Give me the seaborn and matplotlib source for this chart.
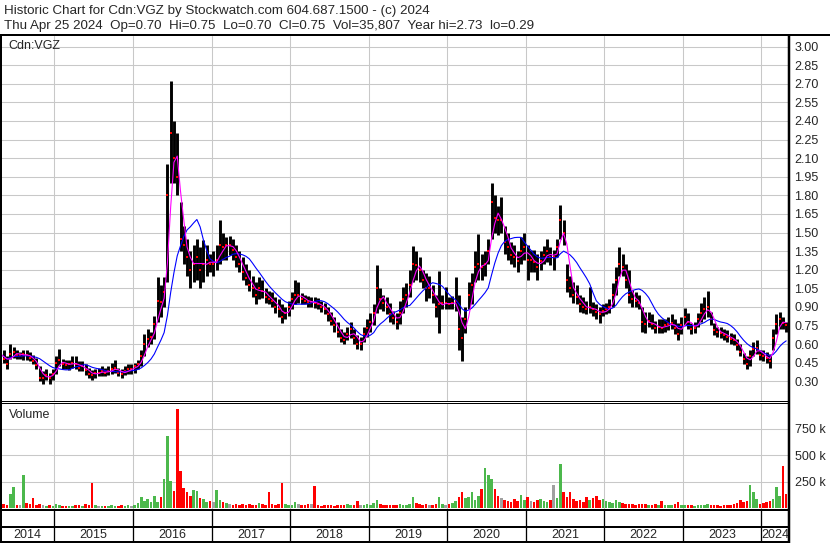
import numpy as np
import pandas as pd
import matplotlib
matplotlib.use("Agg")
import matplotlib.pyplot as plt
import matplotlib.dates as mdates
from matplotlib.lines import Line2D
import seaborn as sns

# --- DATA (semi-monthly bars) ---
START, END = "2014-04-25", "2024-04-25"

high = [0.57, 0.55, 0.50, 0.60, 0.58, 0.55, 0.54, 0.55, 0.55, 0.54,
        0.51, 0.49, 0.42, 0.38, 0.40, 0.37, 0.40, 0.50, 0.56, 0.48,
        0.47, 0.47, 0.50, 0.50, 0.46, 0.46, 0.44, 0.41, 0.39, 0.40,
        0.41, 0.42, 0.41, 0.42, 0.45, 0.47, 0.41, 0.40, 0.42, 0.44,
        0.44, 0.45, 0.47, 0.55, 0.68, 0.72, 0.70, 0.83, 1.14, 1.08,
        1.14, 2.05, 2.72, 2.40, 2.30, 1.75, 1.55, 1.45, 1.35, 1.40,
        1.45, 1.38, 1.44, 1.40, 1.33, 1.35, 1.40, 1.60, 1.50, 1.46,
        1.47, 1.45, 1.40, 1.35, 1.30, 1.25, 1.20, 1.15, 1.10, 1.14,
        1.12, 1.05, 1.03, 1.02, 0.98, 0.96, 0.92, 0.90, 0.95, 1.02,
        1.12, 1.10, 1.01, 1.00, 0.99, 0.98, 0.98, 0.97, 0.95, 0.93,
        0.90, 0.86, 0.82, 0.78, 0.72, 0.70, 0.74, 0.78, 0.72, 0.67,
        0.66, 0.74, 0.80, 0.85, 0.92, 1.24, 1.05, 1.00, 0.98, 0.93,
        0.87, 0.85, 0.95, 1.06, 1.09, 1.20, 1.39, 1.35, 1.30, 1.20,
        1.17, 1.15, 1.08, 1.00, 1.19, 1.00, 1.06, 0.98, 0.99, 1.14,
        1.00, 0.82, 0.90, 1.10, 1.17, 1.35, 1.49, 1.33, 1.35, 1.45,
        1.90, 1.80, 1.71, 1.79, 1.55, 1.50, 1.42, 1.40, 1.35, 1.46,
        1.50, 1.40, 1.36, 1.36, 1.33, 1.35, 1.39, 1.45, 1.38, 1.36,
        1.45, 1.72, 1.60, 1.25, 1.15, 1.10, 1.08, 1.00, 0.98, 0.95,
        1.06, 0.94, 0.92, 0.90, 0.92, 0.93, 0.96, 1.09, 1.22, 1.38,
        1.33, 1.25, 1.20, 1.04, 1.02, 1.00, 0.90, 0.86, 0.86, 0.84,
        0.79, 0.80, 0.80, 0.80, 0.82, 0.84, 0.80, 0.77, 0.82, 0.89,
        0.85, 0.77, 0.78, 0.85, 0.93, 0.98, 1.03, 0.86, 0.77, 0.74,
        0.74, 0.72, 0.71, 0.69, 0.68, 0.64, 0.60, 0.53, 0.50, 0.55,
        0.62, 0.63, 0.55, 0.55, 0.54, 0.52, 0.72, 0.84, 0.86, 0.82, 0.78]

low = [0.47, 0.45, 0.40, 0.48, 0.49, 0.48, 0.48, 0.47, 0.47, 0.46,
       0.44, 0.40, 0.30, 0.28, 0.31, 0.28, 0.31, 0.36, 0.42, 0.40,
       0.40, 0.39, 0.41, 0.40, 0.38, 0.38, 0.35, 0.33, 0.31, 0.33,
       0.34, 0.34, 0.34, 0.35, 0.36, 0.37, 0.34, 0.33, 0.35, 0.36,
       0.36, 0.37, 0.40, 0.42, 0.50, 0.58, 0.60, 0.64, 0.78, 0.82,
       0.90, 1.10, 1.90, 1.90, 1.80, 1.35, 1.25, 1.15, 1.05, 1.10,
       1.12, 1.05, 1.10, 1.15, 1.18, 1.15, 1.20, 1.25, 1.28, 1.28,
       1.32, 1.28, 1.22, 1.18, 1.12, 1.08, 1.03, 0.98, 0.92, 0.96,
       0.97, 0.93, 0.92, 0.90, 0.85, 0.82, 0.77, 0.80, 0.83, 0.88,
       0.92, 0.93, 0.92, 0.92, 0.90, 0.90, 0.89, 0.88, 0.86, 0.84,
       0.79, 0.75, 0.70, 0.66, 0.62, 0.60, 0.63, 0.65, 0.60, 0.56,
       0.55, 0.62, 0.66, 0.70, 0.75, 0.85, 0.88, 0.87, 0.84, 0.78,
       0.76, 0.72, 0.76, 0.85, 0.90, 0.98, 1.10, 1.12, 1.10, 1.05,
       0.95, 0.97, 0.93, 0.82, 0.69, 0.88, 0.88, 0.88, 0.88, 0.87,
       0.55, 0.46, 0.69, 0.88, 0.92, 1.10, 1.12, 1.12, 1.15, 1.25,
       1.45, 1.50, 1.48, 1.50, 1.33, 1.28, 1.25, 1.22, 1.18, 1.25,
       1.28, 1.12, 1.18, 1.18, 1.12, 1.20, 1.25, 1.26, 1.24, 1.20,
       1.30, 1.45, 1.40, 1.02, 0.98, 0.93, 0.92, 0.86, 0.85, 0.84,
       0.85, 0.83, 0.80, 0.77, 0.83, 0.84, 0.85, 0.90, 1.00, 1.15,
       1.15, 1.05, 0.93, 0.90, 0.90, 0.88, 0.70, 0.69, 0.74, 0.72,
       0.69, 0.69, 0.69, 0.70, 0.71, 0.72, 0.68, 0.63, 0.68, 0.75,
       0.72, 0.68, 0.69, 0.74, 0.78, 0.80, 0.82, 0.75, 0.67, 0.66,
       0.65, 0.63, 0.62, 0.60, 0.59, 0.55, 0.50, 0.44, 0.40, 0.42,
       0.50, 0.52, 0.47, 0.46, 0.45, 0.41, 0.55, 0.68, 0.72, 0.72, 0.70]

close = [0.52, 0.48, 0.44, 0.52, 0.54, 0.51, 0.51, 0.52, 0.51, 0.49,
         0.46, 0.43, 0.33, 0.33, 0.35, 0.33, 0.36, 0.45, 0.47, 0.44,
         0.43, 0.44, 0.45, 0.44, 0.41, 0.42, 0.39, 0.36, 0.35, 0.37,
         0.37, 0.38, 0.37, 0.38, 0.40, 0.41, 0.37, 0.36, 0.38, 0.40,
         0.40, 0.42, 0.44, 0.50, 0.60, 0.64, 0.66, 0.76, 0.95, 0.94,
         1.02, 1.80, 2.30, 2.10, 1.95, 1.45, 1.40, 1.30, 1.20, 1.25,
         1.30, 1.20, 1.25, 1.28, 1.25, 1.25, 1.28, 1.40, 1.38, 1.40,
         1.40, 1.36, 1.30, 1.25, 1.18, 1.13, 1.08, 1.05, 1.00, 1.05,
         1.03, 0.98, 0.96, 0.95, 0.90, 0.88, 0.82, 0.85, 0.90, 0.96,
         1.00, 1.00, 0.96, 0.95, 0.94, 0.94, 0.93, 0.92, 0.90, 0.88,
         0.84, 0.79, 0.75, 0.70, 0.65, 0.63, 0.68, 0.72, 0.65, 0.60,
         0.60, 0.68, 0.73, 0.78, 0.85, 1.05, 0.96, 0.93, 0.90, 0.84,
         0.81, 0.78, 0.85, 0.96, 1.00, 1.08, 1.25, 1.24, 1.20, 1.12,
         1.05, 1.05, 1.00, 0.90, 0.92, 0.93, 0.93, 0.92, 0.93, 0.95,
         0.72, 0.65, 0.80, 1.00, 1.08, 1.22, 1.25, 1.22, 1.25, 1.35,
         1.75, 1.62, 1.60, 1.60, 1.42, 1.38, 1.32, 1.30, 1.27, 1.35,
         1.38, 1.28, 1.28, 1.26, 1.22, 1.27, 1.32, 1.35, 1.30, 1.30,
         1.38, 1.60, 1.50, 1.12, 1.05, 1.00, 0.98, 0.92, 0.90, 0.88,
         0.90, 0.88, 0.86, 0.84, 0.87, 0.88, 0.90, 1.00, 1.12, 1.25,
         1.22, 1.12, 1.00, 0.96, 0.95, 0.93, 0.78, 0.76, 0.79, 0.76,
         0.73, 0.74, 0.73, 0.75, 0.76, 0.77, 0.73, 0.68, 0.75, 0.82,
         0.78, 0.72, 0.73, 0.80, 0.85, 0.88, 0.90, 0.80, 0.71, 0.70,
         0.69, 0.67, 0.66, 0.64, 0.63, 0.59, 0.54, 0.48, 0.44, 0.50,
         0.56, 0.57, 0.51, 0.50, 0.49, 0.46, 0.65, 0.76, 0.80, 0.77, 0.75]

volume_k = [60, 45, 30, 130, 200, 35, 30, 310, 50, 40,
            97, 35, 40, 30, 25, 30, 25, 40, 30, 25,
            20, 25, 20, 30, 35, 25, 40, 35, 235, 30,
            25, 20, 25, 20, 30, 25, 20, 35, 25, 30,
            25, 30, 50, 110, 70, 90, 60, 120, 60, 110,
            280, 680, 260, 160, 930, 350, 190, 150, 120, 170,
            160, 100, 90, 60, 70, 60, 170, 80, 60, 50,
            40, 35, 40, 30, 45, 35, 40, 30, 35, 50,
            40, 35, 150, 40, 35, 45, 240, 40, 35, 30,
            60, 40, 35, 30, 40, 40, 205, 30, 25, 30,
            35, 30, 25, 30, 35, 30, 40, 30, 35, 70,
            30, 35, 40, 35, 50, 80, 40, 35, 30, 35,
            30, 35, 40, 30, 35, 45, 110, 50, 40, 35,
            40, 35, 30, 45, 105, 40, 35, 40, 50, 70,
            110, 150, 100, 110, 150, 80, 120, 185, 375, 315,
            275, 185, 120, 100, 80, 70, 60, 90, 70, 125,
            80, 110, 70, 60, 80, 90, 70, 60, 80, 215,
            100, 420, 150, 110, 150, 90, 70, 80, 60, 110,
            80, 100, 120, 80, 90, 70, 60, 50, 80, 60,
            50, 40, 45, 40, 35, 40, 45, 40, 35, 30,
            40, 35, 70, 30, 35, 30, 40, 55, 35, 30,
            35, 30, 25, 30, 35, 30, 40, 30, 35, 30,
            25, 30, 35, 30, 40, 50, 80, 60, 70, 215,
            150, 90, 40, 50, 60, 70, 90, 200, 120, 400, 130]

price_ticks = [0.30, 0.45, 0.60, 0.75, 0.90, 1.05, 1.20, 1.35, 1.50, 1.65,
               1.80, 1.95, 2.10, 2.25, 2.40, 2.55, 2.70, 2.85, 3.00]
vol_ticks = [250, 500, 750]
years = list(range(2014, 2025))

header_1 = "Historic Chart for Cdn:VGZ by Stockwatch.com 604.687.1500 - (c) 2024"
header_2 = ("Thu Apr 25 2024  Op=0.70  Hi=0.75  Lo=0.70  Cl=0.75  "
            "Vol=35,807  Year hi=2.73  lo=0.29")

# --- STYLE ---
GRID = "#c8c8c8"
GREEN, RED, GREY = "#4cb84c", "#ff0000", "#a0a0a0"
FS = 9

sns.set_style("white")
plt.rcParams["font.family"] = ["Liberation Sans", "DejaVu Sans"]

df = pd.DataFrame({
    "date": pd.date_range(START, END, periods=len(close)),
    "high": high, "low": low, "close": close,
    "volume": np.array(volume_k) * 1000.0,
})
df["ma_fast"] = df["close"].rolling(3, min_periods=1).mean()
df["ma_slow"] = df["close"].rolling(10, min_periods=1).mean()
chg = df["close"].diff().fillna(0)
df["vcol"] = np.where(chg > 0, GREEN, np.where(chg < 0, RED, GREY))

W, H = 830, 543
fig = plt.figure(figsize=(W / 100, H / 100), dpi=100)
fig.patch.set_facecolor("white")


def box(x0, y0, x1, y1):
    # pixel box (origin top-left) -> figure fraction rect
    return [x0 / W, 1 - y1 / H, (x1 - x0) / W, (y1 - y0) / H]


def fline(xs, ys, lw):
    fig.add_artist(Line2D([x / W for x in xs], [1 - y / H for y in ys],
                          color="black", lw=lw * 0.72, solid_capstyle="butt"))


xmin, xmax = pd.Timestamp("2014-04-23"), pd.Timestamp("2024-05-08")
year_edges = [pd.Timestamp(f"{y}-01-01") for y in years[1:]]

ax_p = fig.add_axes(box(0, 36, 789, 401.5))
ax_v = fig.add_axes(box(0, 403, 789, 510))
ax_yr = fig.add_axes(box(0, 527, 789, 542))

for ax in (ax_p, ax_v, ax_yr):
    for s in ax.spines.values():
        s.set_visible(False)
    ax.set_xlim(xmin, xmax)
    ax.set_xticks(year_edges)
    ax.tick_params(axis="x", length=0, labelbottom=False)

# price panel
ax_p.vlines(df["date"], df["low"], df["high"], color="black", lw=2.1, zorder=3)
ax_p.plot(df["date"], df["close"], ls="none", marker="s", ms=1.7, mew=0,
          color="red", zorder=4)
sns.lineplot(data=df, x="date", y="ma_slow", ax=ax_p, color="#0000ff", lw=0.8, zorder=5)
sns.lineplot(data=df, x="date", y="ma_fast", ax=ax_p, color="#ff00ff", lw=0.8, zorder=6)
ax_p.set_xlim(xmin, xmax)
ax_p.set_ylim(0.137, 3.085)
ax_p.set_yticks(price_ticks)
ax_p.set_yticklabels([f"{v:.2f}" for v in price_ticks])
ax_p.yaxis.tick_right()
ax_p.tick_params(axis="y", length=0, pad=4, labelsize=FS)
ax_p.grid(True, color=GRID, lw=0.75)
ax_p.set_axisbelow(True)
ax_p.set_xlabel("")
ax_p.set_ylabel("")
ax_p.text(8 / 789, 1 - 13.3 / 365.5, "Cdn:VGZ", transform=ax_p.transAxes,
          fontsize=FS, va="baseline", ha="left")

# volume panel
ax_v.bar(df["date"], df["volume"], width=12, color=df["vcol"], lw=0, zorder=3)
ax_v.set_ylim(-16e3, 990e3)
ax_v.set_yticks([v * 1000 for v in vol_ticks])
ax_v.set_yticklabels([f"{v} k" for v in vol_ticks])
ax_v.yaxis.tick_right()
ax_v.tick_params(axis="y", length=0, pad=4, labelsize=FS)
ax_v.grid(True, color=GRID, lw=0.75)
ax_v.set_axisbelow(True)
ax_v.text(9 / 789, 1 - 14.7 / 107, "Volume", transform=ax_v.transAxes,
          fontsize=FS, va="baseline", ha="left")

# year labels
ax_yr.set_ylim(0, 1)
ax_yr.set_yticks([])
for y in years:
    a = max(pd.Timestamp(f"{y}-01-01"), xmin)
    b = min(pd.Timestamp(f"{y + 1}-01-01"), xmax)
    ax_yr.text(a + (b - a) / 2, 0.45, str(y), ha="center", va="center", fontsize=FS)

# header
fig.text(4 / W, 1 - 14 / H, header_1, fontsize=9.6, va="baseline", ha="left")
fig.text(4 / W, 1 - 28.6 / H, header_2, fontsize=9.6, va="baseline", ha="left")

# frame lines
fline([0, W], [35, 35], 2)
fline([0, 789], [401.3, 401.3], 1)
fline([0, 789], [403, 403], 1)
fline([0, 789], [510, 510], 2)
fline([0, 789], [526.7, 526.7], 2)
fline([0, 789], [542, 542], 2)
fline([1, 1], [35, 543], 2)
fline([789, 789], [35, 543], 2.5)
for e in year_edges:
    xf = ax_yr.transData.transform((mdates.date2num(e), 0))[0]
    fline([xf, xf], [510, 543], 1.3)

fig.savefig("out.png", dpi=100)
